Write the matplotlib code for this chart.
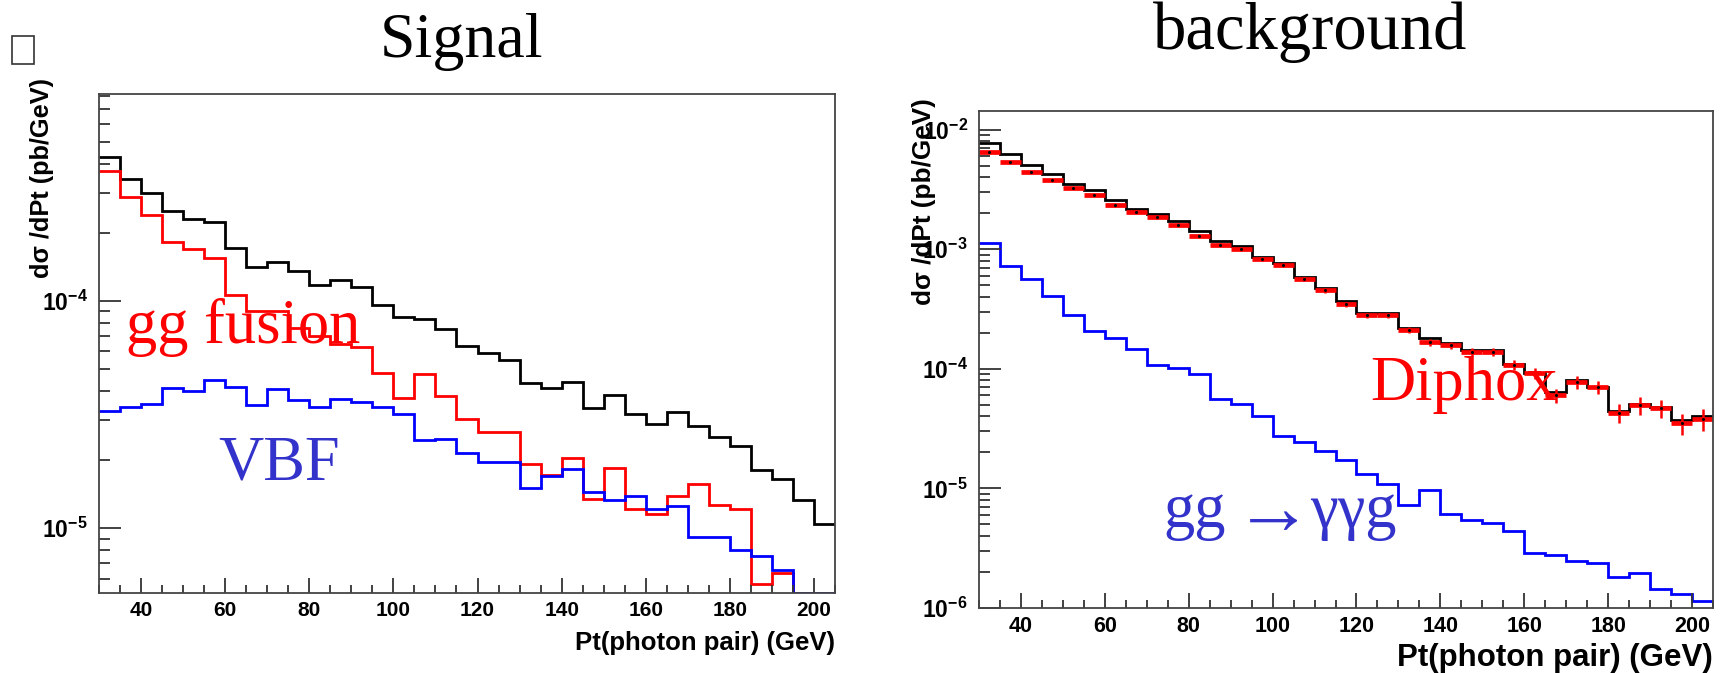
import numpy as np
import matplotlib
matplotlib.use('Agg')
import matplotlib.pyplot as plt
from matplotlib.ticker import MultipleLocator, LogLocator, NullFormatter, FuncFormatter
from matplotlib.patches import Rectangle

plt.rcParams['font.family'] = ['Liberation Sans', 'DejaVu Sans']
plt.rcParams['mathtext.fontset'] = 'custom'
plt.rcParams['mathtext.rm'] = 'Liberation Sans:bold'
plt.rcParams['mathtext.bf'] = 'Liberation Sans:bold'
plt.rcParams['mathtext.it'] = 'Liberation Sans:bold:italic'
plt.rcParams['mathtext.default'] = 'rm'

# bin edges of Pt(photon pair), GeV
pt_edges = [30, 35, 40, 45, 50, 55, 60, 65, 70, 75, 80, 85, 90, 95, 100, 105, 110, 115,
            120, 125, 130, 135, 140, 145, 150, 155, 160, 165, 170, 175, 180, 185, 190,
            195, 200, 205]

# Signal (left)
sig_total = [4.32e-4, 3.44e-4, 2.98e-4, 2.48e-4, 2.29e-4, 2.22e-4, 1.71e-4, 1.41e-4,
             1.49e-4, 1.35e-4, 1.18e-4, 1.24e-4, 1.15e-4, 9.6e-5, 8.5e-5, 8.3e-5, 7.5e-5,
             6.35e-5, 5.88e-5, 5.5e-5, 4.35e-5, 4.15e-5, 4.39e-5, 3.4e-5, 3.85e-5, 3.17e-5,
             2.88e-5, 3.25e-5, 2.83e-5, 2.53e-5, 2.31e-5, 1.81e-5, 1.65e-5, 1.33e-5, 1.04e-5]
sig_ggfusion = [3.73e-4, 2.86e-4, 2.38e-4, 1.81e-4, 1.69e-4, 1.55e-4, 1.06e-4, 9.0e-5,
                9.0e-5, 7.6e-5, 7.0e-5, 6.5e-5, 6.3e-5, 4.82e-5, 3.73e-5, 4.76e-5, 3.82e-5,
                3.04e-5, 2.65e-5, 2.65e-5, 1.91e-5, 1.72e-5, 2.03e-5, 1.34e-5, 1.84e-5,
                1.21e-5, 1.15e-5, 1.38e-5, 1.56e-5, 1.26e-5, 1.21e-5, 5.71e-6, 6.34e-6,
                1e-7, 1e-7]
sig_vbf = [3.27e-5, 3.43e-5, 3.53e-5, 4.15e-5, 4.03e-5, 4.5e-5, 4.2e-5, 3.47e-5, 4.09e-5,
           3.67e-5, 3.42e-5, 3.72e-5, 3.59e-5, 3.43e-5, 3.17e-5, 2.44e-5, 2.47e-5, 2.15e-5,
           1.96e-5, 1.96e-5, 1.5e-5, 1.7e-5, 1.83e-5, 1.45e-5, 1.33e-5, 1.38e-5, 1.21e-5,
           1.25e-5, 9.2e-6, 9.2e-6, 8.0e-6, 7.56e-6, 6.53e-6, 5.2e-6, 5.2e-6]

# background (right)
bkg_total = [7.68e-3, 6.2e-3, 5.05e-3, 4.24e-3, 3.54e-3, 3.13e-3, 2.56e-3, 2.17e-3, 1.98e-3,
             1.73e-3, 1.42e-3, 1.16e-3, 1.07e-3, 8.67e-4, 7.73e-4, 5.86e-4, 4.77e-4, 3.66e-4,
             2.9e-4, 2.9e-4, 2.21e-4, 1.8e-4, 1.64e-4, 1.44e-4, 1.44e-4, 1.09e-4, 9.3e-5,
             6.35e-5, 8.0e-5, 7.03e-5, 4.41e-5, 5.11e-5, 4.8e-5, 3.71e-5, 4.01e-5]
bkg_diphox = [6.49e-3, 5.39e-3, 4.41e-3, 3.77e-3, 3.23e-3, 2.86e-3, 2.33e-3, 2.05e-3, 1.85e-3,
              1.6e-3, 1.3e-3, 1.09e-3, 1.0e-3, 8.24e-4, 7.43e-4, 5.63e-4, 4.52e-4, 3.45e-4,
              2.8e-4, 2.8e-4, 2.11e-4, 1.66e-4, 1.58e-4, 1.39e-4, 1.39e-4, 1.08e-4, 9.2e-5,
              6.0e-5, 7.7e-5, 7.03e-5, 4.27e-5, 4.95e-5, 4.7e-5, 3.52e-5, 3.81e-5]
diphox_relerr = [0.02, 0.02, 0.02, 0.02, 0.02, 0.02, 0.025, 0.025, 0.025, 0.03, 0.03, 0.03,
                 0.035, 0.035, 0.04, 0.04, 0.045, 0.05, 0.05, 0.05, 0.06, 0.07, 0.07, 0.08,
                 0.08, 0.09, 0.10, 0.13, 0.12, 0.12, 0.18, 0.17, 0.17, 0.20, 0.20]
bkg_gg = [1.12e-3, 7.3e-4, 5.67e-4, 4.06e-4, 2.84e-4, 2.07e-4, 1.8e-4, 1.47e-4, 1.08e-4,
          1.01e-4, 9.0e-5, 5.58e-5, 5.11e-5, 4.06e-5, 2.76e-5, 2.45e-5, 2.05e-5, 1.74e-5,
          1.32e-5, 1.09e-5, 7.26e-6, 9.62e-6, 6.15e-6, 5.45e-6, 5.17e-6, 4.41e-6, 2.91e-6,
          2.76e-6, 2.45e-6, 2.37e-6, 1.8e-6, 1.95e-6, 1.44e-6, 1.32e-6, 1.14e-6]

W, H = 1722, 673


def fx(px):
    return px / W


def fy(py):
    return 1 - py / H


def style_axis(ax, ylim, xsize, ysize):
    ax.set_yscale('log')
    ax.set_xlim(30, 205)
    ax.set_ylim(*ylim)
    for s in ax.spines.values():
        s.set_color('#444444')
        s.set_linewidth(1.3)
    ax.xaxis.set_major_locator(MultipleLocator(20))
    ax.xaxis.set_minor_locator(MultipleLocator(5))
    ax.yaxis.set_major_locator(LogLocator(base=10, numticks=20))
    ax.yaxis.set_minor_locator(LogLocator(base=10, subs=np.arange(2, 10), numticks=20))
    ax.yaxis.set_minor_formatter(NullFormatter())
    ax.yaxis.set_major_formatter(FuncFormatter(lambda v, p: r'$10^{%d}$' % round(np.log10(v))))
    ax.tick_params(axis='both', which='both', direction='in', colors='#333333',
                   top=False, right=False, width=1.3)
    ax.tick_params(axis='x', which='major', length=11, pad=6, labelsize=xsize, labelcolor='black')
    ax.tick_params(axis='x', which='minor', length=5.5)
    ax.tick_params(axis='y', which='major', length=16, pad=8, labelsize=ysize, labelcolor='black')
    ax.tick_params(axis='y', which='minor', length=8)
    for lab in ax.get_xticklabels():
        lab.set_fontweight('bold')


fig = plt.figure(figsize=(17.22, 6.73), dpi=100)

ax1 = fig.add_axes([fx(99), fy(593), (835 - 99) / W, (593 - 94) / H])
ax2 = fig.add_axes([fx(979), fy(608), (1713 - 979) / W, (608 - 111) / H])

# Signal
ax1.stairs(sig_total, pt_edges, baseline=None, color='black', lw=2)
ax1.stairs(sig_ggfusion, pt_edges, baseline=None, color='#ff0000', lw=2)
ax1.stairs(sig_vbf, pt_edges, baseline=None, color='#0000ff', lw=2)
style_axis(ax1, (5.19e-6, 8.15e-4), 15, 16.5)

# background
edges = np.array(pt_edges)
centers = (edges[:-1] + edges[1:]) / 2
diphox = np.array(bkg_diphox)
err = diphox * np.array(diphox_relerr)
ax2.stairs(bkg_total, pt_edges, baseline=None, color='black', lw=2)
ax2.hlines(diphox, edges[:-1], edges[1:], color='#ff0000', lw=3.4)
ax2.vlines(centers, diphox - err, diphox + err, color='#ff0000', lw=1.8)
ax2.plot(centers, diphox, 'o', color='black', ms=1.2)
ax2.stairs(bkg_gg, pt_edges, baseline=None, color='#0000ff', lw=2)
style_axis(ax2, (1e-6, 1.43e-2), 15.5, 16.5)

# titles
serif = ['Liberation Serif', 'DejaVu Serif']
fig.text(fx(461), fy(57), 'Signal', family=serif, fontsize=46, ha='center', va='baseline')
fig.text(fx(1310), fy(49), 'background', family=serif, fontsize=48, ha='center', va='baseline')
fig.patches.append(Rectangle((fx(12), fy(64)), (34 - 12) / W, (64 - 36) / H,
                             transform=fig.transFigure, fill=False,
                             edgecolor='#333333', lw=1.2))

# axis titles
ylab = 'd\u03c3 /dPt (pb/GeV)'
fig.text(fx(42), fy(78), ylab, rotation=90, fontsize=18.3, fontweight='bold',
         ha='center', va='top')
fig.text(fx(924), fy(98), ylab, rotation=90, fontsize=18.8, fontweight='bold',
         ha='center', va='top')
fig.text(fx(835), fy(643), 'Pt(photon pair) (GeV)', fontsize=18.5, fontweight='bold',
         ha='right', va='center')
fig.text(fx(1713), fy(658), 'Pt(photon pair) (GeV)', fontsize=22.5, fontweight='bold',
         ha='right', va='center')

# curve names
fig.text(fx(126), fy(343), 'gg fusion', family=serif, fontsize=45, color='#ff0000',
         va='baseline')
fig.text(fx(218), fy(480), 'VBF', family=serif, fontsize=45, color='#3333cc',
         va='baseline')
fig.text(fx(1370), fy(400), 'Diphox', family=serif, fontsize=45, color='#ff0000',
         va='baseline')
fig.text(fx(1163), fy(527), 'gg', family=serif, fontsize=45, color='#3333cc',
         va='baseline')
fig.text(fx(1234), fy(534), '\u2192', family=serif, fontsize=57,
         color='#3333cc', va='baseline')
fig.text(fx(1310), fy(527), '\u03b3\u03b3g', family=serif, fontsize=45,
         color='#3333cc', va='baseline')

fig.savefig('out.png', dpi=100)
